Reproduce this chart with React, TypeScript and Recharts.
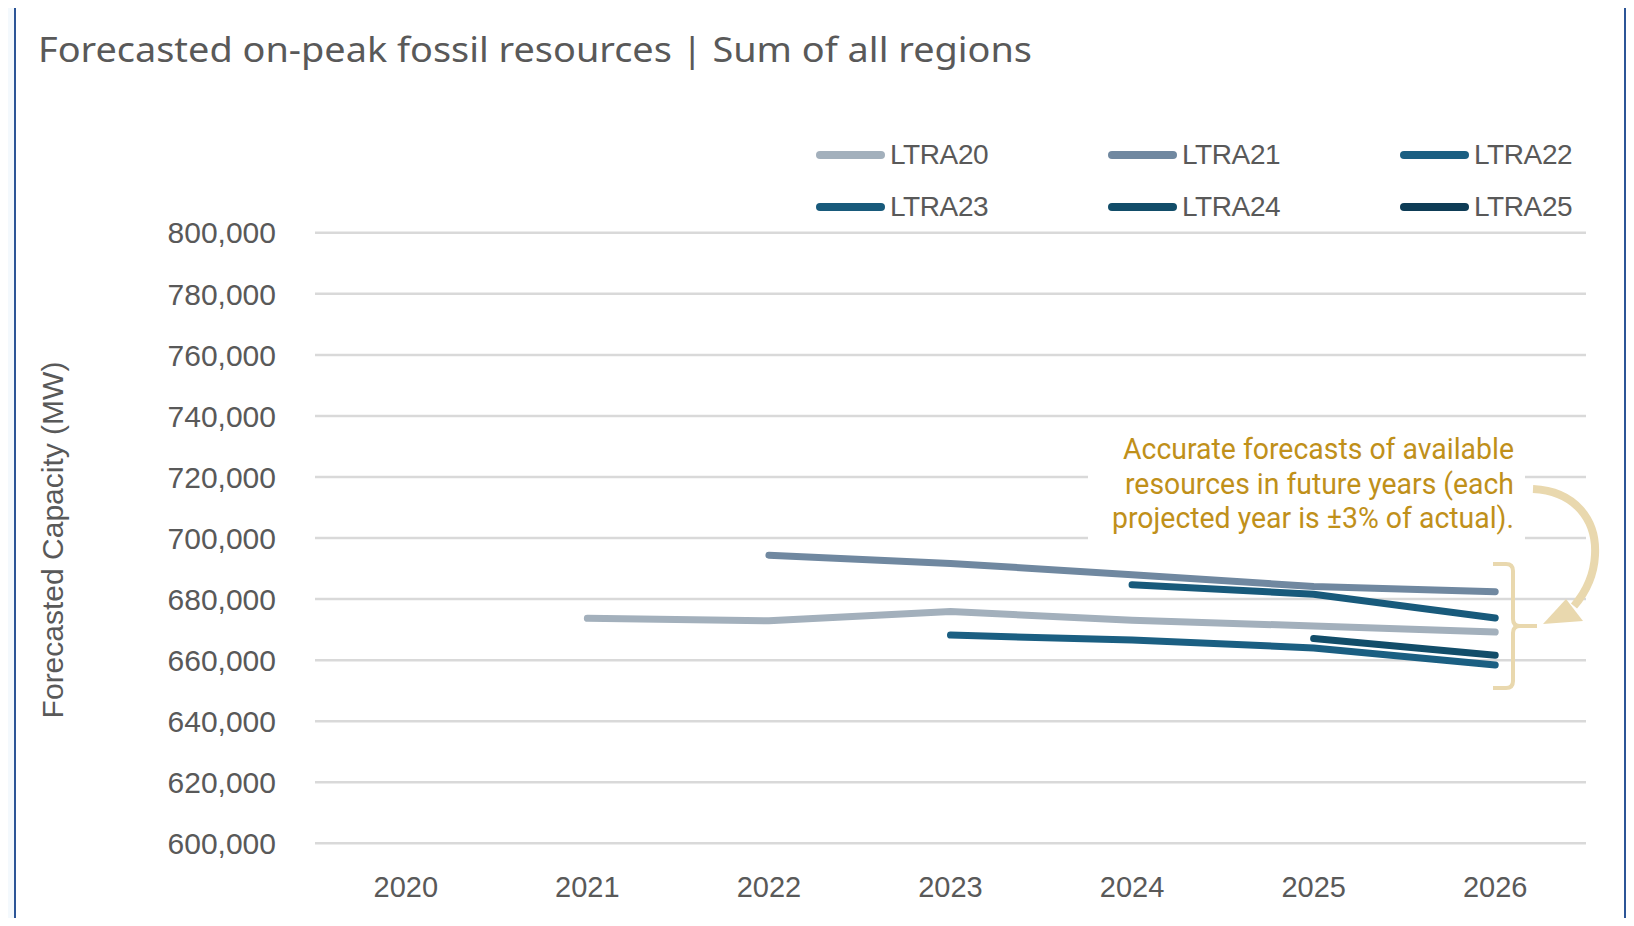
import React from "react";
import {
  CartesianGrid,
  Customized,
  Legend,
  Line,
  LineChart,
  XAxis,
  YAxis,
} from "recharts";

const YEARS = [2020, 2021, 2022, 2023, 2024, 2025, 2026];
const LTRA20 = [null, 673700, 672900, 675900, 673100, 671200, 669200];
const LTRA21 = [null, null, 694400, 691700, 688000, 684100, 682400];
const LTRA22 = [null, null, null, 668200, 666600, 664000, 658400];
const LTRA23 = [null, null, null, null, 684700, 681600, 673800];
const LTRA24 = [null, null, null, null, null, 667100, 661600];
const LTRA25 = [null, null, null, null, null, null, null];

const SERIES_NAMES = ["LTRA20", "LTRA21", "LTRA22", "LTRA23", "LTRA24", "LTRA25"];
const SERIES_VALUES = [LTRA20, LTRA21, LTRA22, LTRA23, LTRA24, LTRA25];
const SERIES_COLORS = ["#a3b0bc", "#7088a0", "#1b5f82", "#185a7b", "#124d69", "#0e3c56"];

const Y_TICKS = [600000, 620000, 640000, 660000, 680000, 700000, 720000, 740000, 760000, 780000, 800000];

const TITLE = "Forecasted on-peak fossil resources | Sum of all regions";
const Y_LABEL = "Forecasted Capacity (MW)";
const NOTE_LINES = [
  "Accurate forecasts of available",
  "resources in future years (each",
  "projected year is \u00b13% of actual).",
];

const data = YEARS.map((year, i) => {
  const row: Record<string, number | null> = { year };
  SERIES_NAMES.forEach((name, s) => {
    row[name] = SERIES_VALUES[s][i];
  });
  return row;
});

const GREY = "#595959";
const GOLD = "#c0901a";
const PALE_GOLD = "#e9d8ae";
const TICK_FONT = "'Liberation Sans', Arial, sans-serif";

function LegendGrid(props: any) {
  const payload = props.payload || [];
  return (
    <div style={{ position: "relative", width: 1634, height: 240 }}>
      {payload.map((item: any, i: number) => {
        const col = i % 3;
        const row = Math.floor(i / 3);
        return (
          <div
            key={item.value}
            style={{
              position: "absolute",
              left: 816 + col * 292,
              top: 155 + row * 52 - 16,
              height: 32,
              display: "flex",
              alignItems: "center",
            }}
          >
            <span
              style={{
                display: "inline-block",
                width: 69,
                height: 8,
                borderRadius: 4,
                background: item.color,
                marginRight: 5,
              }}
            />
            <span
              style={{
                fontFamily: TICK_FONT,
                fontSize: 28,
                lineHeight: "32px",
                color: GREY,
                letterSpacing: -0.4,
              }}
            >
              {item.value}
            </span>
          </div>
        );
      })}
    </div>
  );
}

function Decorations() {
  return (
    <g>
      <text
        x={38}
        y={62}
        fontFamily="'Noto Sans', sans-serif"
        fontSize={35}
        fill={GREY}
        textLength={994}
        lengthAdjust="spacingAndGlyphs"
      >
        {TITLE}
      </text>
      <text
        transform="translate(52,540) rotate(-90)"
        textAnchor="middle"
        dominantBaseline="central"
        fontFamily={TICK_FONT}
        fontSize={30}
        fill={GREY}
      >
        {Y_LABEL}
      </text>
      <rect x={1088} y={425} width={437} height={118} fill="#ffffff" />
      {NOTE_LINES.map((line, i) => (
        <text
          key={i}
          x={1514}
          y={459 + i * 34.5}
          textAnchor="end"
          fontFamily="Roboto, sans-serif"
          fontSize={29}
          fill={GOLD}
          textLength={[391, 389, 402][i]}
          lengthAdjust="spacingAndGlyphs"
        >
          {line}
        </text>
      ))}
      <path
        d="M1493,564 L1506,564 Q1513,564 1513,571 L1513,619 Q1513,626 1520,626 L1537,626 M1520,626 Q1513,626 1513,633 L1513,681 Q1513,688 1506,688 L1493,688"
        fill="none"
        stroke={PALE_GOLD}
        strokeWidth={4}
      />
      <path
        d="M1533,489 C1575,491 1597,520 1595,555 C1594,575 1586,592 1574,606"
        fill="none"
        stroke={PALE_GOLD}
        strokeWidth={8}
      />
      <polygon points="1543,624 1566,599 1583,621" fill={PALE_GOLD} />
    </g>
  );
}

export default function App() {
  return (
    <div
      style={{
        position: "relative",
        width: 1634,
        height: 926,
        margin: -8,
        background: "#f4f9fd",
        overflow: "hidden",
      }}
    >
      <div
        style={{
          position: "absolute",
          left: 14,
          top: 6,
          width: 1612,
          height: 960,
          border: "2px solid #2c5597",
          background: "#ffffff",
          boxSizing: "border-box",
        }}
      />
      <div style={{ position: "absolute", left: 0, top: 0 }}>
        <LineChart
          width={1634}
          height={926}
          data={data}
          margin={{ top: 232.8, right: 48, bottom: 0, left: 0 }}
        >
          <CartesianGrid vertical={false} stroke="#d9d9d9" strokeWidth={2.5} />
          <XAxis
            dataKey="year"
            type="number"
            domain={[2019.5, 2026.5]}
            ticks={YEARS}
            height={82.7}
            axisLine={false}
            tickLine={false}
            tickSize={0}
            tickMargin={33}
            tick={{ fill: GREY, fontSize: 29, fontFamily: TICK_FONT }}
          />
          <YAxis
            domain={[600000, 800000]}
            ticks={Y_TICKS}
            width={315}
            axisLine={false}
            tickLine={false}
            tickSize={0}
            tickMargin={39}
            tickFormatter={(v: number) => v.toLocaleString("en-US")}
            tick={{ fill: GREY, fontSize: 30, fontFamily: TICK_FONT }}
          />
          <Customized component={Decorations} />
          <Legend
            layout="vertical"
            align="center"
            verticalAlign="middle"
            wrapperStyle={{ top: 0, left: 0, width: 1634, height: 240 }}
            content={LegendGrid}
          />
          {SERIES_NAMES.map((name, s) => (
            <Line
              key={name}
              dataKey={name}
              name={name}
              type="linear"
              stroke={SERIES_COLORS[s]}
              strokeWidth={7}
              strokeLinecap="round"
              dot={false}
              activeDot={false}
              isAnimationActive={false}
            />
          ))}
        </LineChart>
      </div>
    </div>
  );
}
